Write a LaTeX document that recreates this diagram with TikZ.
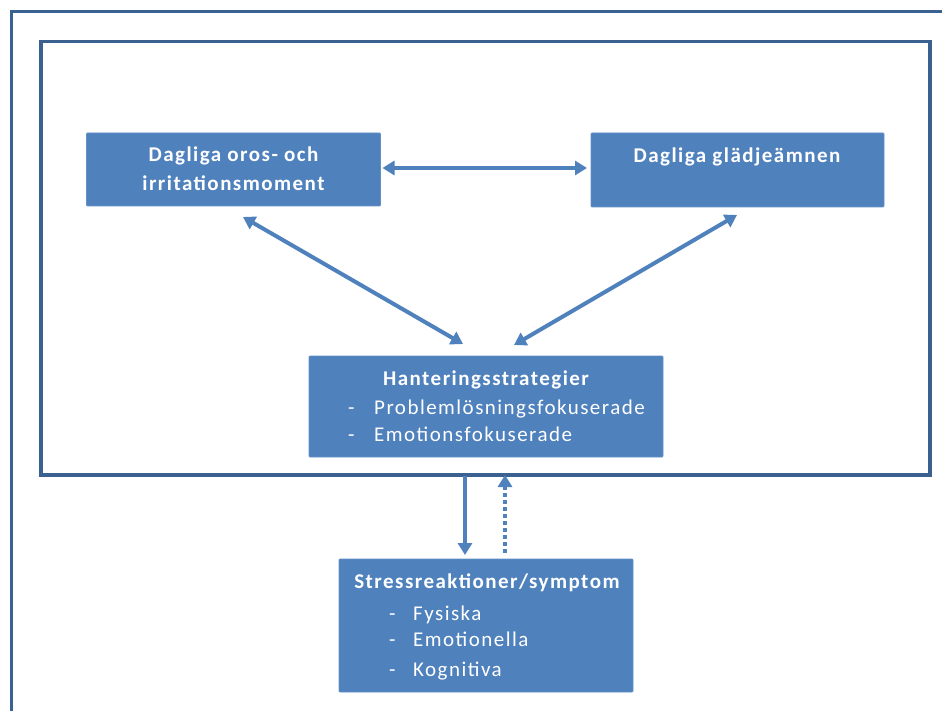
\documentclass[tikz,border=0pt]{standalone}
\usepackage{fontspec}
\setmainfont{Carlito}
\newfontfamily\boxfont[LetterSpace=7]{Carlito}
\usetikzlibrary{arrows.meta}
\definecolor{boxblue}{HTML}{4F81BD}
\definecolor{frameblue}{HTML}{3A6190}
\definecolor{boxedge}{HTML}{6290C8}
\begin{document}
\begin{tikzpicture}[x=1pt,y=-1pt,
  boxnode/.style={fill=boxblue, draw=boxedge, line width=0.8pt, rounded corners=1pt, inner sep=0pt, outer sep=0pt},
  lbl/.style={text=white, font=\boxfont\fontsize{21}{25}\selectfont, inner sep=0pt, anchor=base},
  lblw/.style={lbl, anchor=base west},
  ttl/.style={text=white, font=\boxfont\bfseries\fontsize{21}{25}\selectfont, inner sep=0pt, anchor=base},
  tip/.tip={Triangle[width=14pt,length=12pt]},
  conn/.style={draw=boxblue, line width=4pt},
  both/.style={conn, tip-tip},
  fwd/.style={conn, -tip},
  dotconn/.style={conn, -tip, dash pattern=on 4pt off 3pt}
]
\useasboundingbox (0,0) rectangle (942,711);
% outer cropped frame
\draw[frameblue, line width=3.3pt] (11.7,711) -- (11.7,11.7) -- (942,11.7);
% inner frame
\node[draw=frameblue, line width=3.3pt, minimum width=889pt, minimum height=433.5pt, inner sep=0pt, outer sep=0pt] (frame) at (485.5,258.25) {};

% boxes
\node[boxnode, minimum width=294pt, minimum height=73pt] (b1) at (233.5,169.5) {};
\node[boxnode, minimum width=293pt, minimum height=74pt] (b2) at (737.5,170) {};
\node[boxnode, minimum width=354pt, minimum height=101pt] (b3) at (486,406.5) {};
\node[boxnode, minimum width=294pt, minimum height=133pt] (b4) at (486,625.5) {};

% texts
\node[ttl] (t1a) at (233.5,161.7) {Dagliga oros- och};
\node[ttl] (t1b) at (233.5,191) {irritationsmoment};
\node[ttl] (t2) at (737,162.3) {Dagliga glädjeämnen};

\node[ttl] (t3) at (486,385) {Hanteringsstrategier};
\node[lblw] (t3d1) at (348,414) {-};
\node[lblw] (t3a) at (374,414) {Problemlösningsfokuserade};
\node[lblw] (t3d2) at (348,441.7) {-};
\node[lblw] (t3b) at (374,441.7) {Emotionsfokuserade};

\node[ttl] (t4) at (487,588) {Stressreaktioner/symptom};
\node[lblw] (t4d1) at (389,620) {-};
\node[lblw] (t4a) at (413,620) {Fysiska};
\node[lblw] (t4d2) at (389,646.7) {-};
\node[lblw] (t4b) at (413,646.7) {Emotionella};
\node[lblw] (t4d3) at (389,676.7) {-};
\node[lblw] (t4c) at (413,676.7) {Kognitiva};

% connectors
\draw[both, shorten <=2pt, shorten >=4pt] ([yshift=1.5pt]b1.east) -- ([yshift=1.5pt]b1.east -| b2.west);
\coordinate (d1s) at (243,217);
\coordinate (d1e) at (463,344);
\coordinate (d2s) at (737,215);
\coordinate (d2e) at (514,345);
\draw[both] (d1s) -- (d1e);
\draw[both] (d2s) -- (d2e);
\coordinate (v1) at (465,0);
\coordinate (v2) at (505,0);
\draw[fwd, shorten <=1pt, shorten >=4pt] (frame.south -| v1) -- (b4.north -| v1);
\draw[dotconn, shorten <=6pt] (b4.north -| v2) -- (frame.south -| v2);
\end{tikzpicture}
\end{document}
